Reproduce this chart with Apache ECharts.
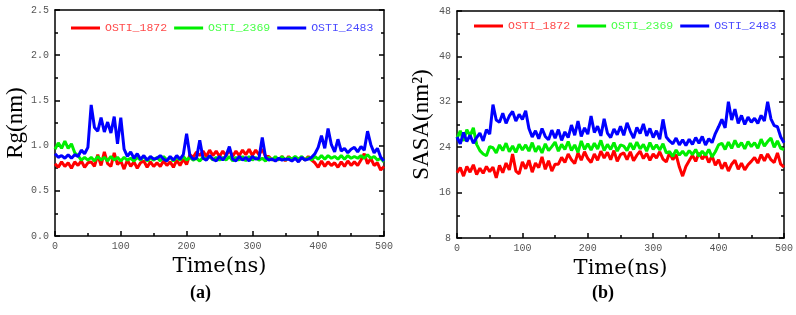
<!DOCTYPE html>
<html>
<head>
<meta charset="utf-8">
<script src="https://cdn.jsdelivr.net/npm/echarts@6/dist/echarts.min.js"></script>
<style>
  html, body { margin: 0; padding: 0; background: #fff; }
  #main { width: 796px; height: 315px; }
</style>
</head>
<body>
<div id="main"></div>
<script>
// time axis (ns), sampled every 5 ns
var times = [0,5,10,15,20,25,30,35,40,45,50,55,60,65,70,75,80,85,90,95,100,
  105,110,115,120,125,130,135,140,145,150,155,160,165,170,175,180,185,190,195,200,
  205,210,215,220,225,230,235,240,245,250,255,260,265,270,275,280,285,290,295,300,
  305,310,315,320,325,330,335,340,345,350,355,360,365,370,375,380,385,390,395,400,
  405,410,415,420,425,430,435,440,445,450,455,460,465,470,475,480,485,490,495,500];

var seriesNames = ['OSTI_1872', 'OSTI_2369', 'OSTI_2483'];
var seriesColors = ['#ff0000', '#00ee00', '#0000ff'];
var legendColors = ['#ff4a4a', '#4aff4a', '#4a4aff'];

// (a) Rg, nm
var rg1872 = [0.80,0.76,0.82,0.77,0.81,0.75,0.82,0.78,0.83,0.76,0.81,
  0.82,0.77,0.90,0.78,0.93,0.80,0.77,0.92,0.79,0.83,
  0.74,0.84,0.77,0.82,0.75,0.81,0.83,0.76,0.82,0.77,
  0.81,0.77,0.83,0.78,0.82,0.76,0.84,0.78,0.85,0.79,
  0.90,0.87,0.93,0.89,0.94,0.88,0.95,0.89,0.94,0.88,
  0.94,0.89,0.95,0.88,0.94,0.89,0.95,0.90,0.96,0.89,
  0.95,0.90,0.96,0.88,0.88,0.84,0.87,0.84,0.88,0.83,
  0.88,0.84,0.87,0.83,0.87,0.84,0.88,0.84,0.81,0.76,
  0.83,0.77,0.82,0.78,0.81,0.76,0.82,0.77,0.83,0.78,
  0.82,0.78,0.84,0.91,0.80,0.86,0.78,0.81,0.73,0.77];
var rg2369 = [0.96,1.03,0.97,1.05,0.97,1.02,0.92,0.89,0.84,0.87,0.84,
  0.87,0.83,0.88,0.84,0.87,0.83,0.88,0.84,0.87,0.83,
  0.87,0.84,0.86,0.83,0.87,0.84,0.88,0.83,0.86,0.84,
  0.87,0.83,0.88,0.84,0.87,0.83,0.87,0.84,0.88,0.84,
  0.87,0.84,0.86,0.83,0.87,0.85,0.88,0.84,0.87,0.84,
  0.87,0.84,0.88,0.83,0.87,0.84,0.88,0.83,0.88,0.84,
  0.87,0.84,0.86,0.83,0.87,0.84,0.88,0.84,0.88,0.84,
  0.87,0.85,0.88,0.85,0.88,0.84,0.87,0.84,0.88,0.85,
  0.89,0.85,0.89,0.86,0.88,0.85,0.89,0.85,0.89,0.86,
  0.88,0.86,0.89,0.86,0.90,0.86,0.88,0.84,0.86,0.82];
var rg2483 = [0.91,0.87,0.89,0.86,0.90,0.86,0.90,0.88,0.95,0.91,0.98,
  1.45,1.20,1.16,1.31,1.15,1.26,1.14,1.32,1.02,1.31,
  0.96,0.88,0.93,0.86,0.91,0.85,0.89,0.84,0.88,0.85,
  0.86,0.89,0.85,0.83,0.88,0.84,0.89,0.85,0.90,1.13,
  0.89,0.85,0.86,1.06,0.86,0.84,0.89,0.85,0.83,0.88,
  0.84,0.89,0.99,0.85,0.83,0.88,0.84,0.87,0.83,0.88,
  0.85,0.86,1.09,0.87,0.84,0.85,0.83,0.86,0.84,0.85,
  0.85,0.83,0.86,0.82,0.87,0.84,0.85,0.87,0.91,0.98,
  1.11,0.97,1.19,1.01,0.93,1.07,0.94,0.97,0.92,0.96,
  0.98,0.93,0.99,0.95,1.16,1.01,0.92,0.97,0.87,0.83];

// (b) SASA, nm2
var sasa1872 = [19.5,20.4,18.9,20.6,19.6,20.9,19.2,20.3,19.4,20.6,19.7,
  20.5,18.6,20.8,19.5,21.2,20.0,22.8,19.8,19.3,21.4,
  20.2,21.7,19.6,21.2,20.4,22.3,20.1,21.6,19.8,21.0,
  21.0,22.2,21.3,22.8,21.8,21.1,23.0,21.7,23.2,22.0,
  21.3,22.8,21.7,23.3,22.1,23.1,21.8,23.4,21.5,22.7,
  23.0,21.8,23.2,21.6,22.6,23.3,22.0,22.9,21.7,22.8,
  22.1,23.2,21.9,21.4,23.0,21.8,22.7,20.5,18.9,20.6,
  21.6,22.6,21.5,23.0,21.9,22.7,21.3,22.5,20.8,21.8,
  20.2,21.3,19.8,21.0,21.7,20.1,21.2,20.0,20.9,21.5,
  22.2,21.2,22.7,21.6,22.8,21.8,21.3,23.0,21.0,20.5];
var sasa2369 = [25.5,26.9,25.1,27.1,26.0,27.4,24.5,23.4,22.8,22.5,24.1,
  23.9,23.0,24.4,23.4,24.7,23.2,24.2,23.1,24.5,23.5,
  24.4,23.3,24.8,23.2,24.2,23.0,24.6,23.4,24.1,24.9,
  23.3,24.5,23.6,25.0,23.4,24.4,23.1,25.1,23.6,24.6,
  23.5,24.7,23.7,25.2,23.4,24.5,23.6,24.8,23.3,24.4,
  24.2,23.4,24.7,23.6,24.9,23.7,24.5,23.3,24.8,23.6,
  24.4,23.5,24.6,23.0,23.2,22.4,23.5,22.6,23.3,22.5,
  23.4,22.7,23.6,22.4,23.3,22.6,23.6,22.3,23.2,24.4,
  24.7,23.6,24.9,23.8,25.2,24.0,24.8,23.7,25.0,24.1,
  24.8,23.8,25.4,24.2,25.0,25.6,24.0,25.1,23.8,23.6];
var sasa2483 = [25.8,24.6,26.6,25.0,26.1,24.7,25.7,26.5,25.1,27.1,26.3,
  31.5,28.8,28.4,30.0,28.2,29.5,30.3,28.6,29.8,28.9,
  30.4,27.3,25.8,26.9,25.5,27.3,25.9,25.3,27.0,25.6,
  27.1,25.2,26.7,25.7,27.9,26.1,28.6,25.9,27.4,26.3,
  29.5,26.6,27.7,26.0,29.0,26.5,25.7,27.2,26.2,27.7,
  26.1,28.3,26.8,25.6,27.5,26.4,28.1,26.0,27.3,25.7,
  26.9,25.4,28.9,25.8,25.1,24.6,25.6,24.4,25.3,24.3,
  25.4,24.5,25.7,24.7,25.9,24.4,25.5,24.8,26.4,27.6,
  28.9,27.4,32.0,28.8,30.7,28.2,29.6,28.0,29.3,28.4,
  29.1,28.2,29.6,28.6,32.0,29.0,27.8,27.6,25.8,24.8];

var rgSets = [rg1872, rg2369, rg2483];
var sasaSets = [sasa1872, sasa2369, sasa2483];

function pairs(vals) {
  return times.map(function (t, i) { return [t, vals[i]]; });
}

var tickFont = { fontFamily: 'Liberation Mono', fontSize: 10, color: '#555' };
var titleFont = { fontFamily: 'Liberation Serif', fontSize: 23, color: '#000' };

function lineOpt() {
  return { show: true, onZero: false, lineStyle: { color: '#000', width: 1.5 } };
}
function tickOpt() {
  return { show: true, inside: true, length: 5, lineStyle: { color: '#000', width: 1.5 } };
}
function minorOpt() {
  return { show: true, splitNumber: 2, length: 3, lineStyle: { color: '#000', width: 1.5 } };
}

function bottomAxis(gi) {
  return {
    type: 'value', gridIndex: gi, position: 'bottom',
    min: 0, max: 500, interval: 100,
    name: 'Time(ns)', nameLocation: 'middle', nameGap: 20,
    nameTextStyle: { fontFamily: 'DejaVu Serif', fontSize: 21, color: '#000' },
    axisLine: lineOpt(), axisTick: tickOpt(), minorTick: minorOpt(),
    axisLabel: Object.assign({ margin: 5 }, tickFont),
    splitLine: { show: false }
  };
}
function topAxis(gi) {
  return {
    type: 'value', gridIndex: gi, position: 'top',
    min: 0, max: 500, interval: 100,
    axisLine: lineOpt(), axisTick: { show: false }, axisLabel: { show: false },
    splitLine: { show: false }
  };
}
function leftAxis(gi, min, max, interval, name, gap, digits) {
  return {
    type: 'value', gridIndex: gi, position: 'left',
    min: min, max: max, interval: interval,
    name: name, nameLocation: 'middle', nameGap: gap, nameRotate: 90,
    nameTextStyle: titleFont,
    axisLine: lineOpt(), axisTick: tickOpt(), minorTick: minorOpt(),
    axisLabel: Object.assign({
      margin: 6,
      formatter: function (v) { return v.toFixed(digits); }
    }, tickFont),
    splitLine: { show: false }
  };
}
function rightAxis(gi, min, max, interval) {
  return {
    type: 'value', gridIndex: gi, position: 'right',
    min: min, max: max, interval: interval,
    axisLine: lineOpt(), axisTick: tickOpt(), minorTick: minorOpt(),
    axisLabel: { show: false },
    splitLine: { show: false }
  };
}

function legendFor(left, top) {
  return {
    left: left, top: top, orient: 'horizontal',
    icon: 'rect', itemWidth: 29, itemHeight: 3, itemGap: 7,
    textStyle: { fontFamily: 'Liberation Mono', fontSize: 11.5 },
    data: seriesNames.map(function (n, i) {
      return { name: n, textStyle: { color: legendColors[i] } };
    })
  };
}

var series = [];
seriesNames.forEach(function (n, i) {
  series.push({
    name: n, type: 'line', xAxisIndex: 0, yAxisIndex: 0,
    data: pairs(rgSets[i]), showSymbol: false, symbol: 'none',
    lineStyle: { width: 3, color: seriesColors[i] }, itemStyle: { color: seriesColors[i] },
    z: 2 + i
  });
});
seriesNames.forEach(function (n, i) {
  series.push({
    name: n, type: 'line', xAxisIndex: 2, yAxisIndex: 2,
    data: pairs(sasaSets[i]), showSymbol: false, symbol: 'none',
    lineStyle: { width: 3, color: seriesColors[i] }, itemStyle: { color: seriesColors[i] },
    z: 2 + i
  });
});

var myChart = echarts.init(document.getElementById('main'));
myChart.setOption({
  backgroundColor: '#fff',
  animation: false,
  grid: [
    { left: 55, right: 412, top: 10, bottom: 79 },
    { left: 457, right: 10, top: 11, bottom: 77 }
  ],
  legend: [legendFor(66, 17), legendFor(469, 15)],
  xAxis: [bottomAxis(0), topAxis(0), bottomAxis(1), topAxis(1)],
  yAxis: [
    leftAxis(0, 0, 2.5, 0.5, 'Rg(nm)', 28, 1), rightAxis(0, 0, 2.5, 0.5),
    leftAxis(1, 8, 48, 8, 'SASA(nm²)', 24, 0), rightAxis(1, 8, 48, 8)
  ],
  graphic: [
    { type: 'text', left: 190, top: 284, style: { text: '(a)', font: 'bold 18px "Liberation Serif"', fill: '#000' } },
    { type: 'text', left: 592, top: 284, style: { text: '(b)', font: 'bold 18px "Liberation Serif"', fill: '#000' } }
  ],
  series: series
});
</script>
</body>
</html>
